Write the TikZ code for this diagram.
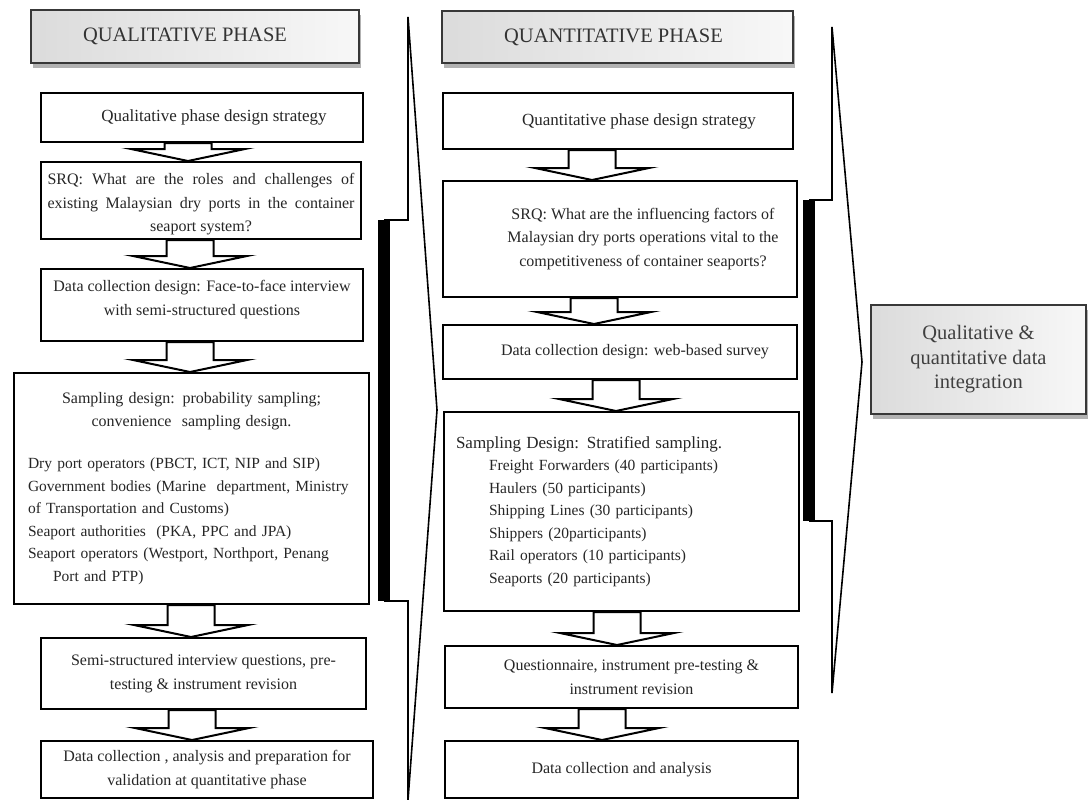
\documentclass[tikz,border=0pt]{standalone}
\usepackage{fontspec}
\setmainfont{Liberation Serif}
\usetikzlibrary{calc,shadows}

\newcommand\bodyfont{\fontsize{16}{23.5}\selectfont}
\newcommand\bigfont{\fontsize{17}{24}\selectfont}
\newcommand\listfont{\fontsize{15.5}{22.5}\selectfont}
\newcommand\headfont{\fontsize{20.5}{24}\selectfont}
\newcommand\sh[1]{\hspace*{#1}}

% white block arrow pointing down from node #1 to node #2, centred at x = #3
\newcommand\blockarrow[3]{%
  \draw[barrow] let \p1=(#1.south), \p2=(#2.north) in
    ({#3pt-23.5pt},\y1) -- ({#3pt-23.5pt},{\y2+12pt}) -- ({#3pt-57pt},{\y2+12pt})
    -- (#3pt,\y2) -- ({#3pt+57pt},{\y2+12pt}) -- ({#3pt+23.5pt},{\y2+12pt})
    -- ({#3pt+23.5pt},\y1) -- cycle;}

\begin{document}
\begin{tikzpicture}[x=1pt,y=-1pt,
  box/.style={draw=black, line width=2pt, fill=white, anchor=north west,
    inner sep=0pt, align=center, font=\bodyfont, text=black!85},
  phase/.style={draw=black!78, line width=2pt, anchor=north west, inner sep=0pt,
    align=center, left color=black!14, middle color=black!32, right color=black!3,
    drop shadow={shadow xshift=2pt, shadow yshift=-5pt, fill=black!55, opacity=.55},
    text=black!80},
  barrow/.style={draw=black, line width=2pt, fill=white, line join=miter},
  brace/.style={draw=black, line width=1.6pt, line join=miter},
  bar/.style={fill=black},
]
\useasboundingbox (0,0) rectangle (1089,800);

% ---------- qualitative column ----------
\node[phase, minimum width=328pt, minimum height=53pt, font=\headfont] (h1) at (30,9)
  {QUALITATIVE PHASE\sh{20pt}};

\node[box, minimum width=322pt, minimum height=49pt, font=\bigfont] (b1) at (40,92)
  {\sh{24pt}Qualitative phase design strategy};
\node[box, minimum width=320pt, minimum height=77pt] (b2) at (40,161)
  {\rule{0pt}{19pt}\makebox[307pt][s]{SRQ: What are the roles and challenges of}\\
   \makebox[307pt][s]{existing Malaysian dry ports in the container}\\
   seaport system?};
\node[box, minimum width=322pt, minimum height=72pt] (b3) at (40,268)
  {Data collection design: Face-to-face interview\\
   with semi-structured questions\rule[-14pt]{0pt}{1pt}};
\node[box, minimum width=355pt, minimum height=231pt, text width=327pt,
      align=left, font=\listfont] (b4) at (13,372)
  {\makebox[327pt]{\bodyfont Sampling design: probability sampling;}\\
   \makebox[327pt]{\bodyfont convenience\ \ sampling design.}\\[20pt]
   Dry port operators (PBCT, ICT, NIP and SIP)\\
   Government bodies (Marine\ \ department, Ministry\\
   of Transportation and Customs)\\
   Seaport authorities\ \ (PKA, PPC and JPA)\\
   Seaport operators (Westport, Northport, Penang\\
   \sh{25pt}Port and PTP)};
\node[box, minimum width=325pt, minimum height=71pt] (b5) at (40,637)
  {Semi-structured interview questions, pre-\\
   testing \& instrument revision};
\node[box, minimum width=332pt, minimum height=57pt] (b6) at (40,740)
  {Data collection , analysis and preparation for\\
   validation at quantitative phase};

\blockarrow{b1}{b2}{188}
\blockarrow{b2}{b3}{190}
\blockarrow{b3}{b4}{190}
\blockarrow{b4}{b5}{191}
\blockarrow{b5}{b6}{192}

% ---------- quantitative column ----------
\node[phase, minimum width=351pt, minimum height=52pt, font=\headfont] (h2) at (441,10)
  {QUANTITATIVE PHASE\sh{8pt}};

\node[box, minimum width=350pt, minimum height=56pt, font=\bigfont] (b7) at (442,92)
  {\sh{42pt}Quantitative phase design strategy};
\node[box, minimum width=354pt, minimum height=116pt] (b8) at (442,180)
  {\sh{46pt}SRQ: What are the influencing factors of\\
   \sh{46pt}Malaysian dry ports operations vital to the\\
   \sh{46pt}competitiveness of container seaports?};
\node[box, minimum width=354pt, minimum height=54pt] (b9) at (442,324)
  {\sh{30pt}Data collection design: web-based survey};
\node[box, minimum width=355pt, minimum height=199pt, text width=331pt,
      align=left, font=\listfont] (b10) at (443,411)
  {{\bigfont Sampling Design: Stratified sampling.}\\
   \sh{33pt}Freight Forwarders (40 participants)\\
   \sh{33pt}Haulers (50 participants)\\
   \sh{33pt}Shipping Lines (30 participants)\\
   \sh{33pt}Shippers (20participants)\\
   \sh{33pt}Rail operators (10 participants)\\
   \sh{33pt}Seaports (20 participants)\\[8pt]};
\node[box, minimum width=353pt, minimum height=62pt] (b11) at (444,645)
  {\sh{20pt}Questionnaire, instrument pre-testing \&\\
   \sh{20pt}instrument revision};
\node[box, minimum width=353pt, minimum height=57pt] (b12) at (444,740)
  {Data collection and analysis};

\blockarrow{b7}{b8}{592}
\blockarrow{b8}{b9}{594}
\blockarrow{b9}{b10}{616}
\blockarrow{b10}{b11}{617}
\blockarrow{b11}{b12}{602}

% ---------- integration ----------
\node[phase, minimum width=215pt, minimum height=109pt,
      font=\fontsize{20.5}{24.5}\selectfont, text=black!75] (h3) at (870,304)
  {Qualitative \&\\quantitative data\\integration};

% ---------- chevron brackets ----------
\draw[brace] (384,220) -- (408,220) -- (408,17) -- (437,410) -- (408,800) -- (408,601) -- (384,601);
\fill[bar] (378,220) rectangle (390,601);
\draw[brace] (809,200) -- (832,200) -- (832,27) -- (862,362) -- (832,693) -- (832,521) -- (809,521);
\fill[bar] (803,200) rectangle (815,521);
\end{tikzpicture}
\end{document}
